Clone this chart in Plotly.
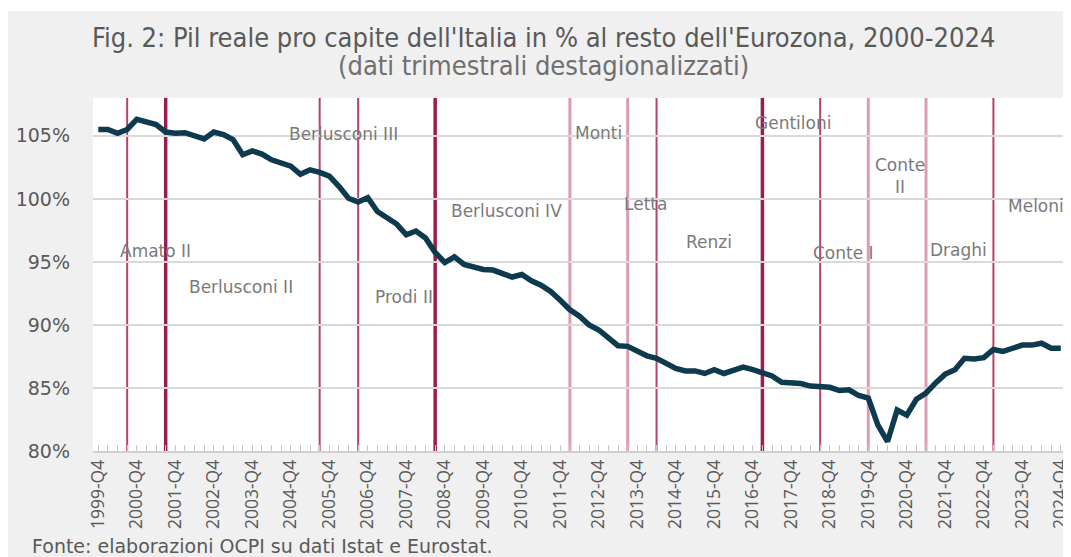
import plotly.graph_objects as go

# ---------------- data ----------------
quarters = [f"{y}-Q{q}" for y in range(1999, 2025) for q in range(1, 5)]
quarters = quarters[quarters.index("1999-Q4"):]  # 1999-Q4 ... 2024-Q4

pil_ratio = [
    105.5, 105.5, 105.2, 105.5, 106.3, 106.05, 105.9, 105.3, 105.2, 105.25,
    105.0, 104.75, 105.3, 105.1, 104.7, 103.5, 103.8, 103.55, 103.1, 102.85,
    102.6, 101.95, 102.3, 102.1, 101.8, 101.0, 100.05, 99.75, 100.1, 99.0,
    98.45, 98.0, 97.15, 97.45, 96.9, 95.75, 94.95, 95.4, 94.8, 94.6,
    94.4, 94.35, 94.05, 93.8, 94.0, 93.5, 93.15, 92.65, 91.95, 91.2,
    90.7, 90.0, 89.6, 88.95, 88.35, 88.3, 87.95, 87.55, 87.35, 86.95,
    86.55, 86.35, 86.35, 86.15, 86.45, 86.15, 86.35, 86.65, 86.45, 86.15,
    85.95, 85.45, 85.4, 85.35, 85.15, 85.15, 85.05, 84.8, 84.85, 84.4,
    84.2, 82.05, 80.75, 83.25, 82.85, 84.1, 84.6, 85.4, 86.1, 86.45,
    87.35, 87.3, 87.4, 88.05, 87.9, 88.15, 88.4, 88.4, 88.55, 88.15,
    88.15,
]

tick_labels = [
    "1999-Q4", "2000-Q4", "2001-Q4", "2002-Q4", "2003-Q4", "2004-Q4",
    "2005-Q4", "2006-Q4", "2007-Q4", "2008-Q4", "2009-Q4", "2010-Q4",
    "2011-Q4", "2012-Q4", "2013-Q4", "2014-Q4", "2015-Q4", "2016-Q4",
    "2017-Q4", "2018-Q4", "2019-Q4", "2020-Q4", "2021-Q4", "2022-Q4",
    "2023-Q4", "2024-Q4",
]

y_ticks = [80, 85, 90, 95, 100, 105]
y_tick_labels = ["80%", "85%", "90%", "95%", "100%", "105%"]

gov_line_quarters = [
    "2000-Q3", "2001-Q3", "2005-Q3", "2006-Q3", "2008-Q3", "2012-Q1",
    "2013-Q3", "2014-Q2", "2017-Q1", "2018-Q3", "2019-Q4", "2021-Q2", "2023-Q1",
]
gov_names = [
    "Amato II", "Berlusconi II", "Berlusconi III", "Prodi II", "Berlusconi IV",
    "Monti", "Letta", "Renzi", "Gentiloni", "Conte I", "Conte<br>II",
    "Draghi", "Meloni",
]

# ---------------- styles / positions ----------------
line_tones = ["mid", "dark", "mid", "mid", "dark", "pale", "pale", "mid",
              "dark", "mid", "pale", "pale", "mid"]
tone_style = {
    "dark": dict(color="#9e1c4c", width=3.5),
    "mid": dict(color="#b5426d", width=2),
    "pale": dict(color="#dc9cb4", width=3),
}
# label anchor positions (x in quarter index, y in % units)
label_pos = [
    (5.9, 95.9), (14.8, 93.0), (25.5, 105.15), (31.8, 92.2), (42.4, 99.05),
    (52.0, 105.25), (56.9, 99.6), (63.5, 96.6), (72.2, 106.0), (77.4, 95.7),
    (83.3, 101.8), (89.4, 95.95), (97.4, 99.4),
]

x_idx = list(range(len(quarters)))

fig = go.Figure()
fig.add_trace(go.Scatter(
    x=x_idx, y=pil_ratio, mode="lines",
    line=dict(color="#0d3a4f", width=5.5),
    hoverinfo="skip", showlegend=False,
))

shapes = []
for q, tone in zip(gov_line_quarters, line_tones):
    xi = quarters.index(q)
    shapes.append(dict(type="line", xref="x", yref="paper", x0=xi, x1=xi,
                       y0=0, y1=1, line=tone_style[tone], layer="between"))
# thin white strip at the very top of the card
shapes.append(dict(type="rect", xref="paper", yref="paper", x0=-0.3, x1=1.2,
                   y0=1.2465, y1=1.4, fillcolor="white", line=dict(width=0),
                   layer="below"))

annotations = []
for name, (lx, ly) in zip(gov_names, label_pos):
    annotations.append(dict(
        x=lx, y=ly, xref="x", yref="y", text=name, showarrow=False,
        font=dict(family="DejaVu Sans, sans-serif", size=17, color="#7a7a7a"),
        xanchor="center", yanchor="middle",
    ))

title_font = "Liberation Sans Narrow, DejaVu Sans Condensed, sans-serif"
annotations.append(dict(
    x=0.462, y=1.1728, xref="paper", yref="paper",
    text="Fig. 2: Pil reale pro capite dell'Italia in % al resto dell'Eurozona, 2000-2024",
    showarrow=False, xanchor="center", yanchor="middle",
    font=dict(family=title_font, size=27, color="#595959"),
))
annotations.append(dict(
    x=0.462, y=1.0907, xref="paper", yref="paper",
    text="(dati trimestrali destagionalizzati)",
    showarrow=False, xanchor="center", yanchor="middle",
    font=dict(family=title_font, size=27, color="#6f6f6f"),
))
annotations.append(dict(
    x=-0.0644, y=-0.27, xref="paper", yref="paper",
    text="Fonte: elaborazioni OCPI su dati Istat e Eurostat.",
    showarrow=False, xanchor="left", yanchor="middle",
    font=dict(family="DejaVu Sans, sans-serif", size=19, color="#595959"),
))

fig.update_layout(
    width=1063, height=549,
    margin=dict(l=85, r=0, t=90, b=106, pad=0),
    paper_bgcolor="#f0f0f0",
    plot_bgcolor="white",
    shapes=shapes,
    annotations=annotations,
    showlegend=False,
)

fig.update_xaxes(
    range=[-0.55, 100.75],
    tickmode="array",
    tickvals=[quarters.index(t) for t in tick_labels],
    ticktext=tick_labels,
    tickangle=-90,
    ticklabeloverflow="allow",
    tickfont=dict(family="Open Sans, sans-serif", size=17.5, color="#595959"),
    ticks="inside", ticklen=6, tickcolor="#c8c8c8", tickwidth=1,
    minor=dict(tickmode="linear", tick0=0, dtick=1, ticks="inside",
               ticklen=6, tickcolor="#c8c8c8", tickwidth=1, showgrid=False),
    showgrid=False, zeroline=False,
    showline=True, linecolor="#d0d0d0", linewidth=1.5,
    fixedrange=True,
)
fig.update_yaxes(
    range=[80, 108],
    tickmode="array", tickvals=y_ticks, ticktext=y_tick_labels,
    tickfont=dict(family="DejaVu Sans, sans-serif", size=19, color="#595959"),
    ticks="", ticklabelstandoff=22,
    showgrid=True, gridcolor="#d9d9d9", gridwidth=1.5,
    zeroline=False, showline=False,
    fixedrange=True,
)

fig.write_html("out.html")
